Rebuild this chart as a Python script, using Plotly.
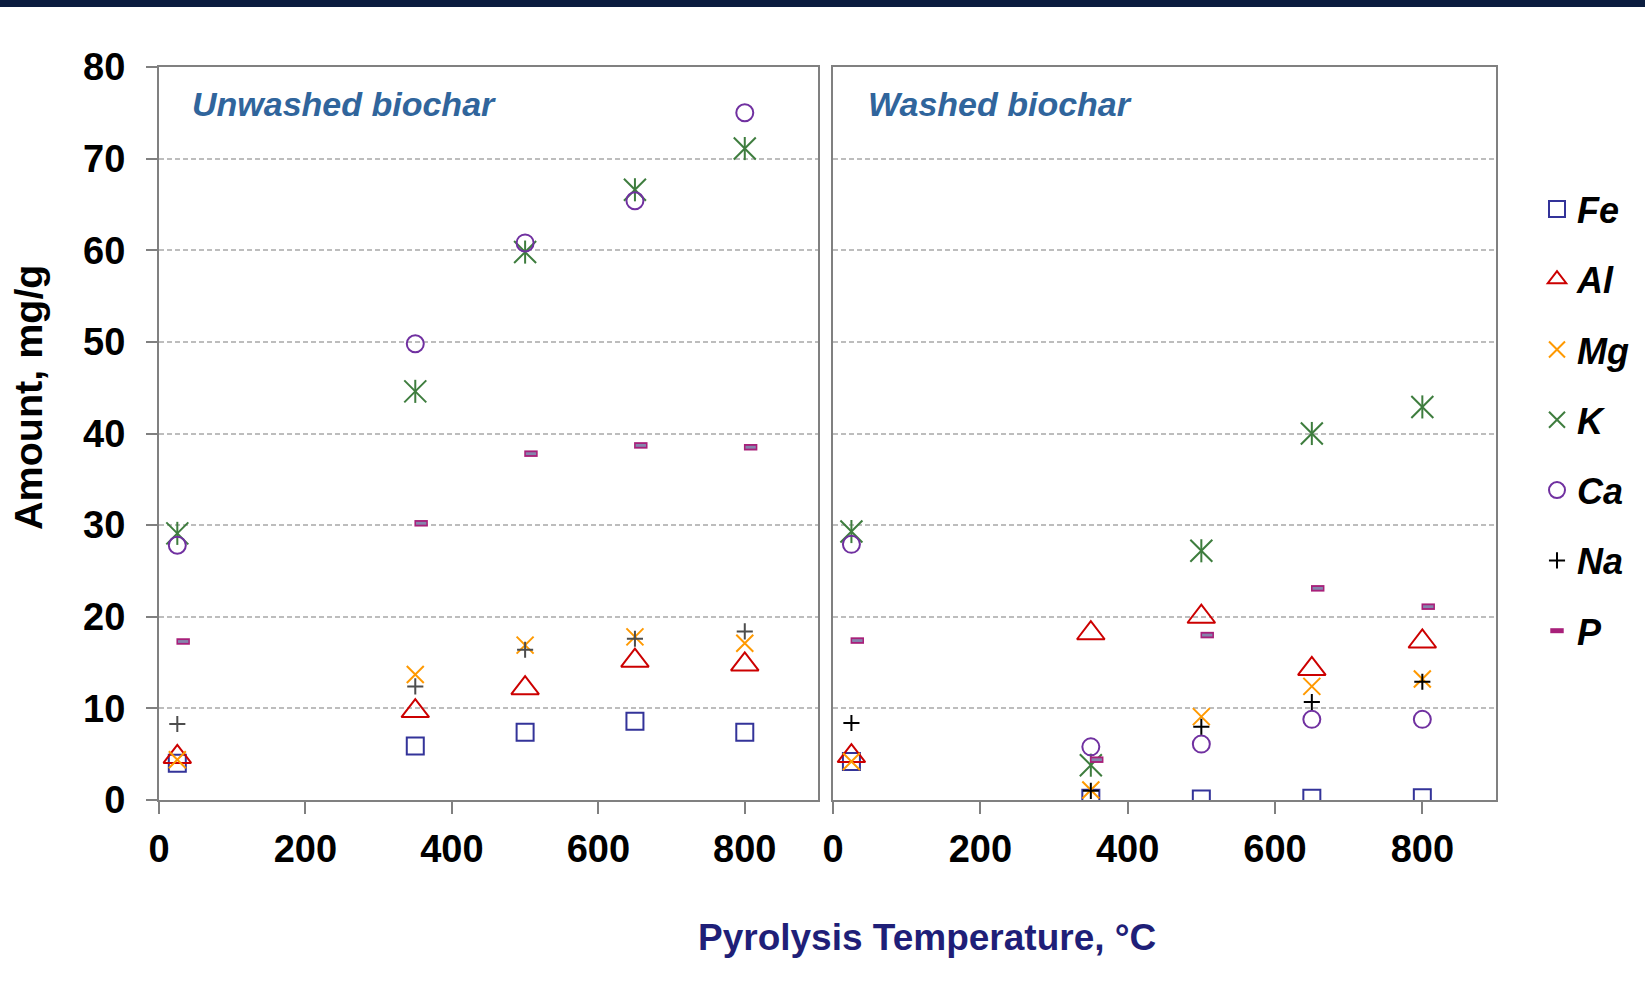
import plotly.graph_objects as go

# Pyrolysis temperatures (°C); phosphorus points sit slightly to the right
temps = [25, 350, 500, 650, 800]
p_temps = [33, 358, 508, 658, 808]

# Unwashed biochar, mg/g
unw_fe = [4.0, 5.9, 7.4, 8.6, 7.4]
unw_al = [4.7, 9.7, 12.2, 15.2, 14.8]
unw_mg = [4.4, 13.7, 16.9, 17.8, 17.1]
unw_k = [29.1, 44.6, 59.8, 66.6, 71.1]
unw_ca = [27.8, 49.8, 60.8, 65.4, 75.0]
unw_na = [8.3, 12.4, 16.4, 17.6, 18.4]
unw_p = [17.3, 30.2, 37.8, 38.7, 38.5]

# Washed biochar, mg/g
wsh_fe = [4.2, 0.2, 0.1, 0.2, 0.25]
wsh_al = [4.8, 18.2, 20.0, 14.3, 17.3]
wsh_mg = [4.2, 1.1, 9.1, 12.4, 13.2]
wsh_k = [29.3, 3.8, 27.2, 40.0, 42.9]
wsh_ca = [27.9, 5.8, 6.1, 8.8, 8.8]
wsh_na = [8.4, 1.0, 8.0, 10.7, 12.9]
wsh_p = [17.4, 4.4, 18.0, 23.1, 21.1]

y_ticks = [0, 10, 20, 30, 40, 50, 60, 70, 80]
x_ticks = [0, 200, 400, 600, 800]

FONT = "Liberation Sans, Arial, sans-serif"
W, H = 1645, 984

C_FE = "#333399"
C_AL = "#CC0000"
C_MG = "#FF9900"
C_K = "#3E7D3E"
C_CA = "#7030A0"
C_P_EDGE = "#A8207A"
C_P_FILL = "#8585AD"

fig = go.Figure()


def add_panel(xa, ya, fe, al, mg, k, ca, na, p, na_color, legend):
    def sc(x, y, name, symbol, color, size, lw, show):
        fig.add_trace(go.Scatter(
            x=x, y=y, mode="markers", name=name, legendgroup=name,
            showlegend=show, xaxis=xa, yaxis=ya, hoverinfo="x+y+name",
            marker=dict(symbol=symbol, size=size, color=color,
                        line=dict(color=color, width=lw)),
        ))

    sc(temps, fe, "Fe", "square-open", C_FE, 17, 2, legend)
    sc(temps, al, "Al", "triangle-up-open", C_AL, 24, 2, legend)
    sc(temps, mg, "Mg", "x-thin-open", C_MG, 17, 2, legend)
    # K drawn as an X with a vertical stroke through it
    sc(temps, k, "K", "x-thin-open", C_K, 22, 2, legend)
    sc(temps, k, "K", "line-ns-open", C_K, 16.5, 2, False)
    sc(temps, ca, "Ca", "circle-open", C_CA, 17, 2, legend)
    sc(temps, na, "Na", "cross-thin-open", na_color, 11.5, 2, legend)
    # P: small framed bar
    sc(p_temps, p, "P", "line-ew-open", C_P_EDGE, 9.6, 6.5, legend)
    sc(p_temps, p, "P", "line-ew-open", C_P_FILL, 7.4, 2.8, False)


add_panel("x", "y", unw_fe, unw_al, unw_mg, unw_k, unw_ca, unw_na, unw_p,
          "#4D4D4D", False)
add_panel("x2", "y2", wsh_fe, wsh_al, wsh_mg, wsh_k, wsh_ca, wsh_na, wsh_p,
          "#000000", True)

ydom = [1 - 800 / H, 1 - 67 / H]
xdom1 = [159 / W, 818 / W]
xdom2 = [833 / W, 1496 / W]

axis_common = dict(
    showline=True, linecolor="#808080", linewidth=2, mirror=True,
    zeroline=False, automargin=False,
)
grid = dict(showgrid=True, gridcolor="#BDBDBD", gridwidth=1.5,
            griddash="5px,3px")
tickfont = dict(family=FONT, size=38, color="#000000", weight="bold")

xaxis_common = dict(
    range=[0, 900], tickvals=x_ticks, ticks="outside", ticklen=12,
    tickcolor="#808080", tickwidth=2, tickfont=tickfont,
    ticklabelstandoff=2, showgrid=False, **axis_common,
)

fig.update_layout(
    width=W, height=H,
    margin=dict(l=0, r=0, t=0, b=0, pad=0, autoexpand=False),
    paper_bgcolor="white", plot_bgcolor="white",
    xaxis=dict(domain=xdom1, anchor="y", **xaxis_common),
    xaxis2=dict(domain=xdom2, anchor="y2", **xaxis_common),
    yaxis=dict(domain=ydom, anchor="x", range=[0, 80], tickvals=y_ticks,
               ticks="outside", ticklen=11, tickcolor="#808080", tickwidth=2,
               tickfont=tickfont, ticklabelstandoff=13, **grid, **axis_common),
    yaxis2=dict(domain=ydom, anchor="x2", range=[0, 80], tickvals=y_ticks,
                ticks="", showticklabels=False, **grid, **axis_common),
    showlegend=True,
    legend=dict(
        x=1537 / W, y=1 - 179 / H, xanchor="left", yanchor="top",
        font=dict(family=FONT, size=36, color="#000000",
                  weight="bold", style="italic"),
        tracegroupgap=20.5, bgcolor="rgba(0,0,0,0)", borderwidth=0,
        itemclick=False, itemdoubleclick=False,
    ),
    font=dict(family=FONT),
)

# Dark banner strip along the top edge
fig.add_shape(type="rect", xref="paper", yref="paper",
              x0=0, x1=1, y0=1 - 7 / H, y1=1,
              fillcolor="#0B1D3F", line=dict(width=0), layer="above")

title_font = dict(family=FONT, size=34, color="#30659C",
                  weight="bold", style="italic")
fig.add_annotation(text="Unwashed biochar", xref="paper", yref="paper",
                   x=190 / W, y=1 - 104 / H, xanchor="left", yanchor="middle",
                   showarrow=False, font=title_font)
fig.add_annotation(text="Washed biochar", xref="paper", yref="paper",
                   x=866 / W, y=1 - 104 / H, xanchor="left", yanchor="middle",
                   showarrow=False, font=title_font)

fig.add_annotation(text="Amount, mg/g", xref="paper", yref="paper",
                   x=28 / W, y=1 - 397 / H, xanchor="center", yanchor="middle",
                   textangle=-90, showarrow=False,
                   font=dict(family=FONT, size=39.5, color="#000000",
                             weight="bold"))
fig.add_annotation(text="Pyrolysis Temperature, °C", xref="paper",
                   yref="paper", x=927 / W, y=1 - 937 / H,
                   xanchor="center", yanchor="middle", showarrow=False,
                   font=dict(family=FONT, size=37, color="#1F1F78",
                             weight="bold"))

fig.write_html("out.html")
